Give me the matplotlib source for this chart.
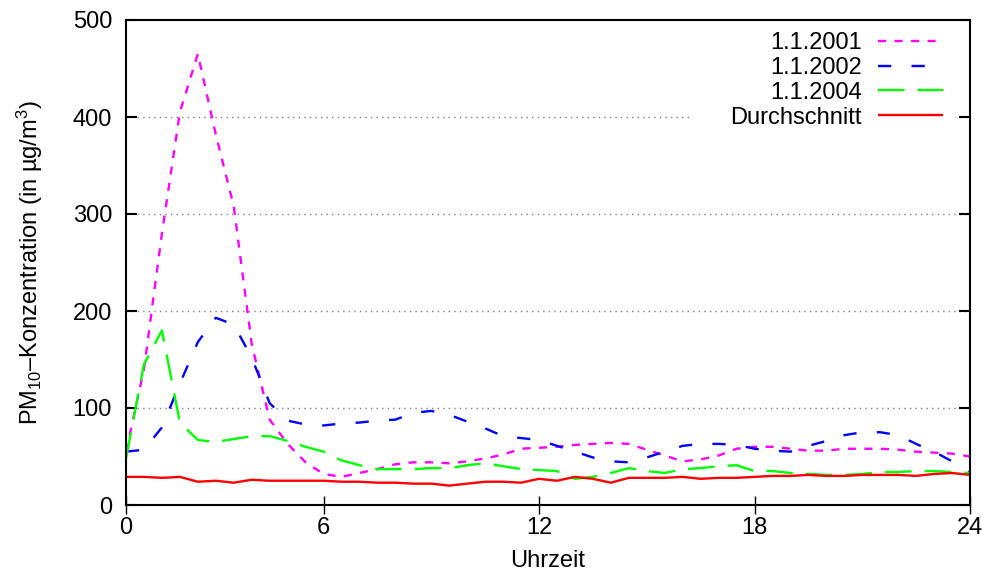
import matplotlib
matplotlib.use("Agg")
import matplotlib.pyplot as plt
from matplotlib.patches import Rectangle
import numpy as np

plt.rcParams['font.family'] = ['Liberation Sans', 'DejaVu Sans']
plt.rcParams['mathtext.fontset'] = 'custom'
plt.rcParams['mathtext.rm'] = 'Liberation Sans'
plt.rcParams['mathtext.it'] = 'Liberation Sans:italic'
plt.rcParams['mathtext.bf'] = 'Liberation Sans:bold'

# Half-hourly PM10 readings (µg/m³)
hours = np.arange(0.5, 24.01, 0.5)

pm_2001 = [55, 140, 280, 405, 465, 382, 308, 166, 88, 63,
           44, 32, 29, 33, 37, 42, 44, 44, 43, 45,
           48, 52, 58, 59, 60, 62, 63, 64, 63, 57,
           51, 45, 47, 51, 58, 60, 60, 58, 56, 56,
           58, 58, 58, 57, 55, 54, 53, 50]

pm_2002 = [55, 57, 80, 125, 168, 193, 186, 152, 105, 87,
           83, 82, 84, 85, 87, 88, 95, 97, 93, 86,
           79, 71, 69, 67, 61, 55, 49, 45, 44, 49,
           55, 61, 63, 63, 62, 58, 56, 55, 61, 66,
           72, 75, 75, 72, 63, 55, 45, 33]

pm_2004 = [48, 145, 180, 85, 67, 65, 68, 71, 71, 66,
           60, 55, 46, 41, 37, 37, 37, 38, 38, 41,
           43, 40, 37, 36, 35, 27, 29, 33, 38, 35,
           33, 37, 38, 40, 41, 35, 35, 33, 32, 31,
           31, 32, 34, 34, 35, 35, 34, 33]

pm_mean = [29, 29, 28, 29, 24, 25, 23, 26, 25, 25,
           25, 25, 24, 24, 23, 23, 22, 22, 20, 22,
           24, 24, 23, 27, 25, 29, 27, 23, 28, 28,
           28, 29, 27, 28, 28, 29, 30, 30, 31, 30,
           30, 31, 31, 31, 30, 32, 33, 31]

series_labels = ['1.1.2001', '1.1.2002', '1.1.2004', 'Durchschnitt']
x_ticks = [0.5, 6, 12, 18, 24]
x_tick_labels = ['0', '6', '12', '18', '24']
y_ticks = [0, 100, 200, 300, 400, 500]

fig = plt.figure(figsize=(9.84, 5.78), dpi=100)
ax = fig.add_axes([126 / 984, 1 - 505 / 578, 844 / 984, 485 / 578])

lw = 1.7
ax.plot(hours, pm_2001, color='#ff00ff', lw=lw, dashes=(3.4, 3.6),
        label=series_labels[0], zorder=3)
ax.plot(hours, pm_2002, color='#0000ff', lw=lw, dashes=(5.6, 8.6),
        label=series_labels[1], zorder=3)
ax.plot(hours, pm_2004, color='#00ff00', lw=lw, dashes=(11.2, 5.6),
        label=series_labels[2], zorder=3)
ax.plot(hours, pm_mean, color='#ff0000', lw=lw, solid_capstyle='butt',
        label=series_labels[3], zorder=3)

ax.set_xlim(0.5, 24)
ax.set_ylim(0, 500)
ax.set_xticks(x_ticks)
ax.set_xticklabels(x_tick_labels)
ax.set_yticks(y_ticks)

for yv in y_ticks[1:-1]:
    ax.axhline(yv, color='#808080', lw=1.0, ls=(0, (1, 3)), zorder=1)

# Opaque key area over the grid
ax.add_patch(Rectangle(((690 - 126) / 844, (505 - 132) / 485),
                       (955 - 690) / 844, 1.0 - (505 - 132) / 485,
                       transform=ax.transAxes, facecolor='white',
                       edgecolor='none', zorder=2))

ax.tick_params(axis='x', direction='inout', length=13, width=1,
               labelsize=17, pad=2)
ax.tick_params(axis='y', direction='in', length=8, width=1.5,
               labelsize=17, right=True, pad=10)
for s in ax.spines.values():
    s.set_linewidth(1.5)
    s.set_zorder(4)

ax.set_xlabel('Uhrzeit', fontsize=17, labelpad=8)
ax.set_ylabel('PM$_{10}$–Konzentration (in µg/m$^3$)', fontsize=17,
              labelpad=20)

leg = ax.legend(loc='upper right', bbox_to_anchor=(1 - 27 / 844, 1 - 12 / 485),
                frameon=False, fontsize=17, markerfirst=False,
                handlelength=2.75, handletextpad=0.7, labelspacing=0.12,
                borderaxespad=0, borderpad=0)
for col in leg._legend_handle_box.get_children():
    col.align = 'right'
leg.set_zorder(5)

fig.savefig('out.png', dpi=100)
